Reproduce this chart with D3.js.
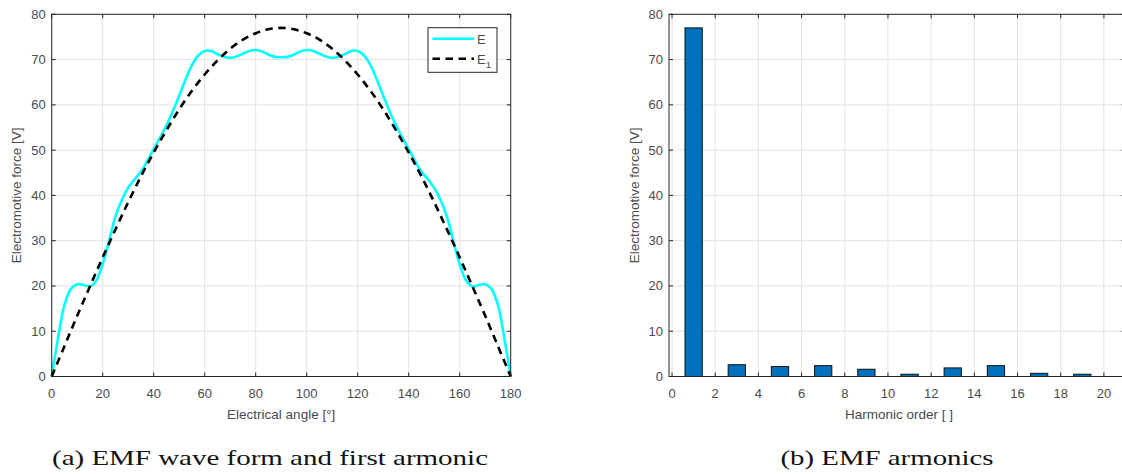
<!DOCTYPE html>
<html>
<head>
<meta charset="utf-8">
<script src="https://cdn.jsdelivr.net/npm/d3@7"></script>
<style>
  html, body { margin: 0; padding: 0; background: #fff; }
  svg { display: block; }
  .tick-label { font-family: "Liberation Sans", Arial, sans-serif; font-size: 13px; fill: #4a4a4a; }
  .axis-label { font-family: "Liberation Sans", Arial, sans-serif; font-size: 13.5px; fill: #4a4a4a; }
  .caption { font-family: "Liberation Serif", "Times New Roman", serif; font-size: 21.5px; fill: #111; }
</style>
</head>
<body>
<svg id="fig" width="1122" height="474"></svg>
<script>
// ---- EMF waveform (phase EMF over half an electrical period) ----
const eAngles = [0, 2.5, 5, 7.5, 10, 12.5, 15, 17.5, 20, 22.5, 25, 27.5, 30, 32.5, 35, 37.5, 40, 42.5, 45, 47.5,
  50, 52.5, 55, 57.5, 60, 62.5, 65, 67.5, 70, 72.5, 75, 77.5, 80, 82.5, 85, 87.5, 90,
  92.5, 95, 97.5, 100, 102.5, 105, 107.5, 110, 112.5, 115, 117.5, 120, 122.5, 125, 127.5, 130, 132.5,
  135, 137.5, 140, 142.5, 145, 147.5, 150, 152.5, 155, 157.5, 160, 162.5, 165, 167.5, 170, 172.5, 175, 177.5, 180];
const eValues = [0, 8.5, 15.8, 19.3, 20.4, 20.2, 19.9, 21.2, 24.8, 30.0, 35.3, 39.0, 41.7, 43.6, 45.2, 47.6,
  50.2, 52.8, 55.5, 58.6, 62.0, 65.6, 68.8, 70.9, 71.9, 71.9, 71.2, 70.6, 70.4, 70.7, 71.3, 71.9, 72.1,
  71.8, 71.1, 70.6, 70.5,
  70.6, 71.1, 71.8, 72.1, 71.9, 71.3, 70.7, 70.4, 70.6, 71.2, 71.9, 71.9, 70.9, 68.8, 65.6, 62.0, 58.6,
  55.5, 52.8, 50.2, 47.6, 45.2, 43.6, 41.7, 39.0, 35.3, 30.0, 24.8, 21.2, 19.9, 20.2, 20.4, 19.3, 15.8, 8.5, 0];

// ---- first harmonic E1 ----
const e1Angles = [0, 5, 10, 15, 20, 25, 30, 35, 40, 45, 50, 55, 60, 65, 70, 75, 80, 85, 90,
  95, 100, 105, 110, 115, 120, 125, 130, 135, 140, 145, 150, 155, 160, 165, 170, 175, 180];
const e1Values = [0, 6.7, 13.4, 19.9, 26.3, 32.5, 38.5, 44.2, 49.5, 54.4, 59.0, 63.1, 66.7, 69.8, 72.4, 74.4, 75.8, 76.7, 77.0,
  76.7, 75.8, 74.4, 72.4, 69.8, 66.7, 63.1, 59.0, 54.4, 49.5, 44.2, 38.5, 32.5, 26.3, 19.9, 13.4, 6.7, 0];

// ---- harmonic spectrum ----
const harmonicOrders = [1, 3, 5, 7, 9, 11, 13, 15, 17, 19];
const harmonicAmps = [77.0, 2.6, 2.2, 2.4, 1.6, 0.5, 1.9, 2.4, 0.7, 0.5];

// ---- ticks ----
const angleTicks = [0, 20, 40, 60, 80, 100, 120, 140, 160, 180];
const orderTicks = [0, 2, 4, 6, 8, 10, 12, 14, 16, 18, 20];
const emfTicks = [0, 10, 20, 30, 40, 50, 60, 70, 80];

const svg = d3.select("#fig");
const AXIS = "#262626", GRID = "#e3e3e3", TICK = 4;

function frame(g, x, y, xTicks, yTicks, xl, xr, yt, yb) {
  // grid
  g.append("g").selectAll("line").data(xTicks).join("line")
    .attr("x1", d => x(d)).attr("x2", d => x(d)).attr("y1", yt).attr("y2", yb)
    .attr("stroke", GRID).attr("stroke-width", 1);
  g.append("g").selectAll("line").data(yTicks).join("line")
    .attr("x1", xl).attr("x2", xr).attr("y1", d => y(d)).attr("y2", d => y(d))
    .attr("stroke", GRID).attr("stroke-width", 1);
}

function box(g, x, y, xTicks, yTicks, xl, xr, yt, yb) {
  const b = g.append("g");
  b.append("rect").attr("x", xl).attr("y", yt).attr("width", xr - xl).attr("height", yb - yt)
    .attr("fill", "none").attr("stroke", AXIS).attr("stroke-width", 1);
  // inward ticks on all four sides
  b.selectAll(".tb").data(xTicks).join("line")
    .attr("x1", d => x(d)).attr("x2", d => x(d)).attr("y1", yb).attr("y2", yb - TICK).attr("stroke", AXIS);
  b.selectAll(".tt").data(xTicks).join("line")
    .attr("x1", d => x(d)).attr("x2", d => x(d)).attr("y1", yt).attr("y2", yt + TICK).attr("stroke", AXIS);
  b.selectAll(".tl").data(yTicks).join("line")
    .attr("x1", xl).attr("x2", xl + TICK).attr("y1", d => y(d)).attr("y2", d => y(d)).attr("stroke", AXIS);
  b.selectAll(".tr").data(yTicks).join("line")
    .attr("x1", xr).attr("x2", xr - TICK).attr("y1", d => y(d)).attr("y2", d => y(d)).attr("stroke", AXIS);
  // labels
  b.selectAll(".lx").data(xTicks).join("text").attr("class", "tick-label")
    .attr("x", d => x(d)).attr("y", 398).attr("text-anchor", "middle").text(d => d);
  b.selectAll(".ly").data(yTicks).join("text").attr("class", "tick-label")
    .attr("x", xl - 6).attr("y", d => y(d) + 4.5).attr("text-anchor", "end").text(d => d);
}

// ================= (a) waveform =================
{
  const xl = 51.7, xr = 510.7, yt = 14.3, yb = 376.5;
  const x = d3.scaleLinear().domain([0, 180]).range([xl, xr]);
  const y = d3.scaleLinear().domain([0, 80]).range([yb, yt]);
  const g = svg.append("g");
  frame(g, x, y, angleTicks, emfTicks, xl, xr, yt, yb);

  const line = d3.line().x(d => x(d[0])).y(d => y(d[1])).curve(d3.curveCatmullRom.alpha(0.5));
  g.append("path").datum(d3.zip(eAngles, eValues)).attr("d", line)
    .attr("fill", "none").attr("stroke", "#00ffff").attr("stroke-width", 2.6);
  g.append("path").datum(d3.zip(e1Angles, e1Values)).attr("d", line)
    .attr("fill", "none").attr("stroke", "#000").attr("stroke-width", 2.6)
    .attr("stroke-dasharray", "7.5,5.5");

  box(g, x, y, angleTicks, emfTicks, xl, xr, yt, yb);

  // legend
  const lg = g.append("g");
  lg.append("rect").attr("x", 428).attr("y", 27.7).attr("width", 69).attr("height", 44.6)
    .attr("fill", "#fff").attr("stroke", AXIS).attr("stroke-width", 1);
  lg.append("line").attr("x1", 432.5).attr("x2", 474).attr("y1", 38.7).attr("y2", 38.7)
    .attr("stroke", "#00ffff").attr("stroke-width", 2.6);
  lg.append("line").attr("x1", 432.5).attr("x2", 474).attr("y1", 58.7).attr("y2", 58.7)
    .attr("stroke", "#000").attr("stroke-width", 2.6).attr("stroke-dasharray", "7.5,5.5");
  lg.append("text").attr("class", "tick-label").attr("x", 477).attr("y", 43.5).text("E");
  const t1 = lg.append("text").attr("class", "tick-label").attr("x", 477).attr("y", 63.5);
  t1.append("tspan").text("E");
  t1.append("tspan").attr("dy", 4).attr("font-size", "9.5px").text("1");

  g.append("text").attr("class", "axis-label").attr("x", (xl + xr) / 2).attr("y", 419)
    .attr("text-anchor", "middle").text("Electrical angle [°]");
  g.append("text").attr("class", "axis-label")
    .attr("transform", `translate(21,${(yt + yb) / 2}) rotate(-90)`)
    .attr("text-anchor", "middle").text("Electromotive force [V]");
  g.append("text").attr("class", "caption").attr("x", 270).attr("y", 465)
    .attr("text-anchor", "middle").attr("textLength", 436).attr("lengthAdjust", "spacingAndGlyphs")
    .text("(a) EMF wave form and first armonic");
}

// ================= (b) spectrum =================
{
  const xl = 669, xr = 1125.5, yt = 14.3, yb = 376.5;
  const x = d3.scaleLinear().domain([-0.14, 21]).range([xl, xr]);
  const y = d3.scaleLinear().domain([0, 80]).range([yb, yt]);
  const g = svg.append("g");
  frame(g, x, y, orderTicks, emfTicks, xl, xr, yt, yb);

  const bw = 0.8;
  g.append("g").selectAll("rect").data(d3.zip(harmonicOrders, harmonicAmps)).join("rect")
    .attr("x", d => x(d[0] - bw / 2)).attr("width", d => x(d[0] + bw / 2) - x(d[0] - bw / 2))
    .attr("y", d => y(d[1])).attr("height", d => y(0) - y(d[1]))
    .attr("fill", "#0072bd").attr("stroke", "#111").attr("stroke-width", 1);

  box(g, x, y, orderTicks, emfTicks, xl, xr, yt, yb);

  g.append("text").attr("class", "axis-label").attr("x", 899).attr("y", 419)
    .attr("text-anchor", "middle").text("Harmonic order [ ]");
  g.append("text").attr("class", "axis-label")
    .attr("transform", `translate(639,${(yt + yb) / 2}) rotate(-90)`)
    .attr("text-anchor", "middle").text("Electromotive force [V]");
  g.append("text").attr("class", "caption").attr("x", 887).attr("y", 465)
    .attr("text-anchor", "middle").attr("textLength", 213).attr("lengthAdjust", "spacingAndGlyphs")
    .text("(b) EMF armonics");
}
</script>
</body>
</html>
